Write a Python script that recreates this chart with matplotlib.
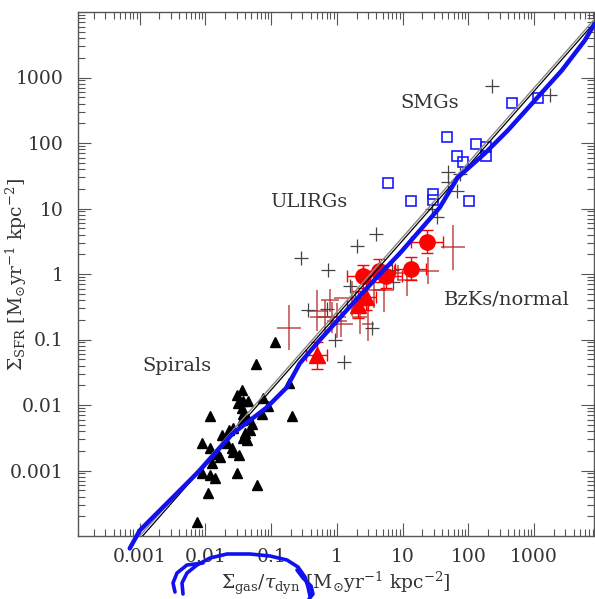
import numpy as np
import matplotlib
matplotlib.use("Agg")
import matplotlib.pyplot as plt
from matplotlib.ticker import FixedLocator, FixedFormatter, LogLocator, NullFormatter

# spirals (black triangles)
spiral_x = [0.113, 0.058, 0.19, 0.036, 0.0116, 0.031, 0.037, 0.044, 0.036, 0.037,
            0.074, 0.089, 0.072, 0.21, 0.044, 0.051, 0.036, 0.026, 0.0226, 0.0177,
            0.040, 0.037, 0.043, 0.0088, 0.0116, 0.021, 0.025, 0.0154, 0.0165, 0.026,
            0.033, 0.0125, 0.0088, 0.030, 0.0116, 0.0138, 0.060, 0.0108, 0.0074,
            0.030, 0.020, 0.048]
spiral_y = [0.090, 0.043, 0.022, 0.017, 0.0069, 0.0109, 0.0117, 0.0117, 0.0089, 0.0074,
            0.013, 0.0098, 0.0074, 0.0069, 0.0062, 0.0052, 0.0058, 0.0045, 0.0041, 0.0035,
            0.0037, 0.0031, 0.0029, 0.0026, 0.0022, 0.0026, 0.0022, 0.0018, 0.0016, 0.0019,
            0.0017, 0.0013, 0.00093, 0.00093, 0.00084, 0.00078, 0.00061, 0.00045, 0.000166,
            0.014, 0.0029, 0.0041]

# ULIRGs (plus signs)
ulirg_x = [228, 1738, 48.8, 74.3, 48.8, 66.8, 27.8, 33.2, 3.91, 2.01, 0.282,
           0.73, 1.57, 6.84, 0.36, 0.70, 0.93, 1.27, 3.40, 2.23, 7.09]
ulirg_y = [729, 550, 35.5, 34.2, 25.8, 18.2, 10.0, 7.3, 4.01, 2.72, 1.73,
           1.17, 0.667, 1.17, 0.287, 0.297, 0.097, 0.0446, 0.152, 0.408, 0.768]

# SMGs (open squares)
smg_x = [459, 1143, 47.1, 130, 184.6, 184.6, 66.8, 82.5, 5.95, 13.3, 28.8, 28.8, 101.8]
smg_y = [401, 495, 125.6, 98.2, 88.4, 62.3, 62.3, 50.4, 24.9, 12.8, 16.4, 13.7, 12.8]

# BzKs: filled circles and triangles
bzk_x = [23.4, 13.3, 2.48, 4.34, 5.55]
bzk_y = [3.13, 1.21, 0.916, 1.13, 0.916]
bzk_tri_x = [0.494, 2.76, 2.08]
bzk_tri_y = [0.057, 0.453, 0.342]

# normal galaxies (crosses, errors in dex)
norm_x = [0.185, 58.1, 24.2, 0.494, 0.654, 0.836, 0.996, 1.146, 0.78, 1.69,
          3.65, 5.18, 11.6, 2.23, 2.95, 8.45]
norm_y = [0.152, 2.54, 1.13, 0.277, 0.224, 0.217, 0.195, 0.175, 0.394, 0.423,
          0.560, 0.579, 0.796, 0.224, 0.175, 1.05]
norm_dx = [0.18, 0.18, 0.17, 0.15, 0.23, 0.21, 0.15, 0.18, 0.14, 0.27,
           0.18, 0.15, 0.15, 0.11, 0.09, 0.21]
norm_dy = [0.34, 0.34, 0.21, 0.31, 0.26, 0.23, 0.27, 0.20, 0.18, 0.27,
           0.26, 0.34, 0.24, 0.26, 0.26, 0.12]

# hand drawn blue line (log10 values)
blue_lx = [-3.152, -3.0, -2.848, -2.087, -1.584, -1.326, -1.067, -0.763, -0.565, -0.306,
           0.242, 0.607, 0.957, 1.262, 1.566, 1.840, 2.251, 2.601, 3.012, 3.423, 3.773, 3.925]
blue_ly = [-4.19, -3.916, -3.763, -3.0, -2.435, -2.237, -2.038, -1.733, -1.366, -1.061,
           -0.450, -0.053, 0.313, 0.664, 1.015, 1.473, 1.840, 2.191, 2.649, 3.107, 3.565, 3.824]

# blue scribble round the x label (figure pixels)
scrib1_px = [175, 173, 177, 187, 203]
scrib1_py = [592, 583, 573, 565, 563]
scrib2_px = [183, 182, 187, 197, 210, 227, 250, 270, 287, 298, 305, 308, 310]
scrib2_py = [594, 583, 573, 565, 558, 554, 554, 556, 560, 567, 577, 587, 596]
scrib3_px = [297, 303, 311, 313, 309]
scrib3_py = [570, 578, 586, 594, 599]

tick_vals = [0.001, 0.01, 0.1, 1, 10, 100, 1000]
tick_labels = ["0.001", "0.01", "0.1", "1", "10", "100", "1000"]

fit_slope = 1.14
fit_icpt = -0.63

plt.rcParams['font.family'] = 'DejaVu Serif'
plt.rcParams['mathtext.fontset'] = 'dejavuserif'
txtc = '#333333'
blue = '#1010f0'

fig = plt.figure(figsize=(5.95, 5.99), dpi=100)
ax = fig.add_axes([78/595, 1-536/599, 516/595, 524/599])
ax.set_xscale('log')
ax.set_yscale('log')
ax.set_xlim(1.15e-4, 8.2e3)
ax.set_ylim(1e-4, 1e4)


def dex_err(v, d):
    v = np.asarray(v, float)
    d = np.asarray(d, float)
    return [v - v / 10**d, v * 10**d - v]


ax.errorbar(norm_x, norm_y, xerr=dex_err(norm_x, norm_dx), yerr=dex_err(norm_y, norm_dy),
            fmt='none', ecolor='#b22222', elinewidth=1.2, alpha=0.75, zorder=2)

ax.errorbar(bzk_x, bzk_y, xerr=dex_err(bzk_x, [0.24]*5), yerr=dex_err(bzk_y, [0.18]*5),
            fmt='o', color='red', ms=11, ecolor='red', elinewidth=1.0, capsize=4, zorder=4)
ax.errorbar(bzk_tri_x, bzk_tri_y, xerr=dex_err(bzk_tri_x, [0.16]*3), yerr=dex_err(bzk_tri_y, [0.2]*3),
            fmt='^', color='red', ms=11, ecolor='red', elinewidth=1.0, capsize=4, zorder=4)

ax.plot(ulirg_x, ulirg_y, '+', color='#444444', ms=10, mew=0.9, zorder=3)
ax.plot(spiral_x, spiral_y, '^', color='black', ms=6.5, zorder=3)
ax.plot(smg_x, smg_y, 's', mfc='none', mec='#1a1aff', ms=6.5, mew=1.2, zorder=3)

fx = np.array([1e-4, 1e4])
ax.plot(fx, 10**(fit_icpt + 0.05) * fx**fit_slope, color='#888888', lw=1.0, zorder=5)
ax.plot(fx, 10**fit_icpt * fx**fit_slope, color='black', lw=0.9, zorder=5)

ax.plot(10**np.array(blue_lx), 10**np.array(blue_ly), color=blue, lw=3.2,
        solid_capstyle='round', clip_on=False, zorder=10)

# labels inside the panel
for s, px, py in [("SMGs", 430, 103), ("ULIRGs", 309, 202),
                  ("BzKs/normal", 507, 300), ("Spirals", 177, 366)]:
    fig.text(px/595, 1-py/599, s, ha='center', va='center', fontsize=14, color=txtc)

for axis in (ax.xaxis, ax.yaxis):
    axis.set_major_locator(FixedLocator(tick_vals))
    axis.set_major_formatter(FixedFormatter(tick_labels))
    axis.set_minor_locator(LogLocator(base=10, subs=np.arange(2, 10), numticks=20))
    axis.set_minor_formatter(NullFormatter())

ax.tick_params(which='both', direction='in', top=True, right=True, color='#555555',
               labelcolor=txtc, labelsize=13.5, width=0.8)
ax.tick_params(which='major', length=9.5)
ax.tick_params(which='minor', length=4.8)
ax.tick_params(axis='x', pad=8.5)
ax.tick_params(axis='y', pad=10.5)
for sp in ax.spines.values():
    sp.set_color('#555555')
    sp.set_linewidth(1.0)

units = r"$[\rm M_{\odot}yr^{-1}\ kpc^{-2}]$"
ax.set_xlabel(r"$\Sigma_{\rm gas}/\tau_{\rm dyn}$ " + units, fontsize=13.5, color=txtc)
ax.xaxis.set_label_coords(0.5, -0.065)
ax.set_ylabel(r"$\Sigma_{\rm SFR}$ " + units, fontsize=13.5, color=txtc)
ax.yaxis.set_label_coords(-0.095, 0.5)

for sx, sy in [(scrib1_px, scrib1_py), (scrib2_px, scrib2_py), (scrib3_px, scrib3_py)]:
    fig.add_artist(plt.Line2D(np.array(sx)/595, 1-np.array(sy)/599, color=blue, lw=2.6,
                              solid_capstyle='round', transform=fig.transFigure))

fig.savefig("out.png", dpi=100)
